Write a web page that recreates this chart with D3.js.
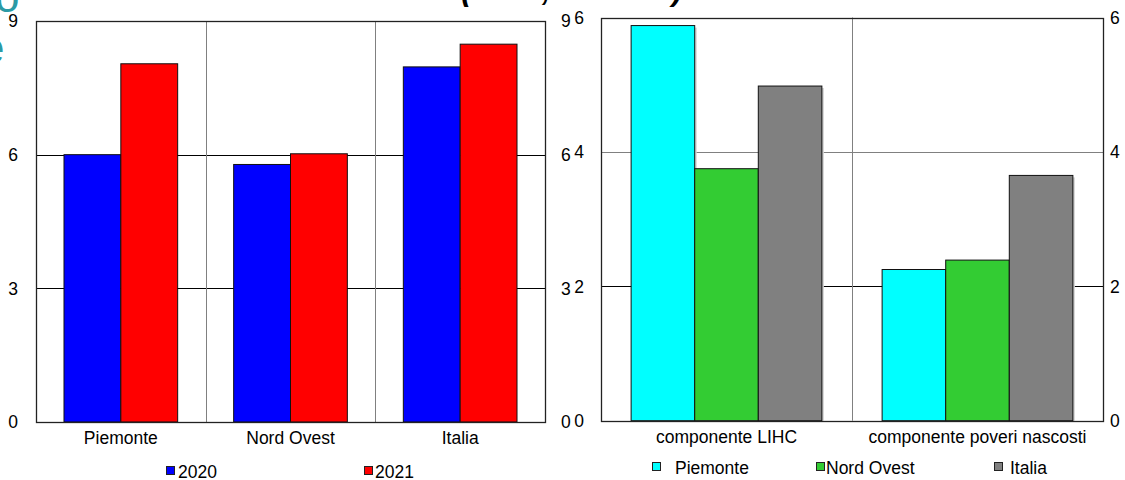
<!DOCTYPE html>
<html>
<head>
<meta charset="utf-8">
<script src="https://cdn.jsdelivr.net/npm/d3@7"></script>
<style>
  html, body { margin: 0; padding: 0; background: #fff; }
  svg { display: block; font-family: "Liberation Sans", Arial, sans-serif; }
</style>
</head>
<body>
<svg id="chart" width="1125" height="480"></svg>
<script>
// ---- data: left panel (per year) ----
const leftCategories = ["Piemonte", "Nord Ovest", "Italia"];
const leftSeries = ["2020", "2021"];
const leftValues2020 = [6.0, 5.78, 7.97];
const leftValues2021 = [8.04, 6.02, 8.48];
const leftTicks = [0, 3, 6, 9];

// ---- data: right panel (per component) ----
const rightCategories = ["componente LIHC", "componente poveri nascosti"];
const rightSeries = ["Piemonte", "Nord Ovest", "Italia"];
const rightPiemonte = [5.88, 2.25];
const rightNordOvest = [3.75, 2.39];
const rightItalia = [4.98, 3.65];
const rightTicks = [0, 2, 4, 6];

const svg = d3.select("#chart");
const FONT = 17.5;

// slide heading fragments along the top edge
svg.append("text").attr("x", -5).attr("y", 12).attr("fill", "#2b9aa5")
  .attr("font-size", 44).text("o");
svg.append("text").attr("x", -20).attr("y", 63).attr("fill", "#2b9aa5")
  .attr("font-size", 44).text("e");
const sub = svg.append("text").attr("y", 0).attr("fill", "#000")
  .attr("font-size", 31).attr("font-weight", "bold").attr("font-style", "italic");
sub.append("tspan").attr("x", 461).text("(valori in %");
sub.append("tspan").attr("x", 542).text(", anno 2021");
sub.append("tspan").attr("x", 672).text(")");

function panel(cfg) {
  const { x0, x1, yTop, yBottom, domainMax, ticks, categories, series, values, colors,
          sideGap, shadow, gridColor } = cfg;
  const g = svg.append("g");
  const y = d3.scaleLinear().domain([0, domainMax]).range([yBottom, yTop]);
  const x = d3.scaleBand().domain(categories).range([x0, x1]).padding(0);
  const bw = x.bandwidth();
  const xs = d3.scaleBand().domain(series).range([sideGap * bw, bw - sideGap * bw]).padding(0);

  // horizontal grid lines
  g.selectAll("line.grid").data(ticks.filter(t => t > 0 && t < domainMax)).join("line")
    .attr("x1", x0).attr("x2", x1)
    .attr("y1", d => Math.round(y(d)) + 0.5).attr("y2", d => Math.round(y(d)) + 0.5)
    .attr("stroke", d => gridColor(d)).attr("stroke-width", 1);

  // category separators
  g.selectAll("line.sep").data(categories.slice(1)).join("line")
    .attr("x1", d => Math.round(x(d)) + 0.5).attr("x2", d => Math.round(x(d)) + 0.5)
    .attr("y1", yTop).attr("y2", yBottom)
    .attr("stroke", "#808080").attr("stroke-width", 1);

  const rows = [];
  categories.forEach((c, i) => series.forEach((s, j) => rows.push({ c, s, v: values[j][i], color: colors[j] })));

  if (shadow) {
    g.selectAll("rect.shadow").data(rows).join("rect")
      .attr("x", d => x(d.c) + xs(d.s) + 2)
      .attr("y", d => y(d.v) + 2)
      .attr("width", xs.bandwidth())
      .attr("height", d => yBottom - y(d.v) - 2)
      .attr("fill", "#d4d4d4");
  }
  g.selectAll("rect.bar").data(rows).join("rect")
    .attr("x", d => x(d.c) + xs(d.s))
    .attr("y", d => y(d.v))
    .attr("width", xs.bandwidth())
    .attr("height", d => yBottom - y(d.v))
    .attr("fill", d => d.color)
    .attr("stroke", "#111").attr("stroke-width", 1);

  // plot frame
  g.append("rect").attr("x", x0 + 0.5).attr("y", Math.round(yTop) + 0.5)
    .attr("width", x1 - x0).attr("height", Math.round(yBottom) - Math.round(yTop))
    .attr("fill", "none").attr("stroke", "#222").attr("stroke-width", 1.3);

  // category labels
  g.selectAll("text.cat").data(categories).join("text")
    .attr("x", d => x(d) + bw / 2).attr("y", yBottom + 22)
    .attr("text-anchor", "middle").attr("font-size", FONT).attr("fill", "#000")
    .text(d => d);

  return y;
}

function tickLabels(y, ticks, xPos, anchor) {
  svg.append("g").selectAll("text").data(ticks).join("text")
    .attr("x", xPos).attr("y", d => y(d)).attr("dy", "0.36em")
    .attr("text-anchor", anchor).attr("font-size", FONT).attr("fill", "#000")
    .text(d => d);
}

const yLeft = panel({
  x0: 36, x1: 545, yTop: 21, yBottom: 422, domainMax: 9, ticks: leftTicks,
  categories: leftCategories, series: leftSeries,
  values: [leftValues2020, leftValues2021], colors: ["#0000ff", "#ff0000"],
  sideGap: 0.165, shadow: false, gridColor: () => "#000"
});
tickLabels(yLeft, leftTicks, 18, "end");
tickLabels(yLeft, leftTicks, 561, "start");

const yRight = panel({
  x0: 601, x1: 1103, yTop: 17.5, yBottom: 420.7, domainMax: 6, ticks: rightTicks,
  categories: rightCategories, series: rightSeries,
  values: [rightPiemonte, rightNordOvest, rightItalia], colors: ["#00ffff", "#33cc33", "#808080"],
  sideGap: 0.12, shadow: true, gridColor: d => d === 4 ? "#808080" : "#000"
});
tickLabels(yRight, rightTicks, 584, "end");
tickLabels(yRight, rightTicks, 1110, "start");

// legends
function legend(items, colors, boxX, textX, baseline) {
  const g = svg.append("g");
  items.forEach((name, i) => {
    g.append("rect").attr("x", boxX[i] + 0.5).attr("y", baseline - 11.5)
      .attr("width", 8).attr("height", 8)
      .attr("fill", colors[i]).attr("stroke", "#222").attr("stroke-width", 1);
    g.append("text").attr("x", textX[i]).attr("y", baseline)
      .attr("font-size", FONT).attr("fill", "#000").text(name);
  });
}
legend(leftSeries, ["#0000ff", "#ff0000"], [166, 364], [178, 375], 478);
legend(rightSeries, ["#00ffff", "#33cc33", "#808080"], [652, 816, 994], [675, 826, 1010], 474);
</script>
</body>
</html>
